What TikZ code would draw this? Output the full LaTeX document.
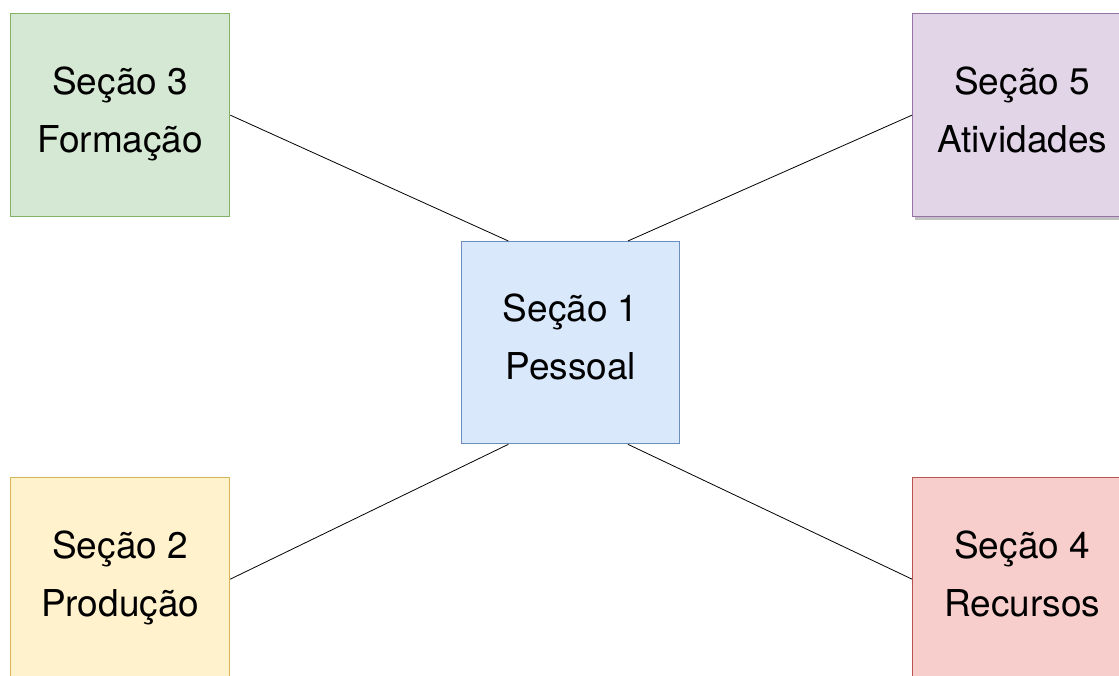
\documentclass[tikz,border=0pt]{standalone}
\usepackage{fontspec}
\setmainfont{TeX Gyre Heros}
\usetikzlibrary{calc}
\definecolor{gfill}{HTML}{D5E8D4}\definecolor{gline}{HTML}{82B366}
\definecolor{pfill}{HTML}{E1D5E7}\definecolor{pline}{HTML}{9673A6}
\definecolor{bfill}{HTML}{DAE8FC}\definecolor{bline}{HTML}{6C8EBF}
\definecolor{yfill}{HTML}{FFF2CC}\definecolor{yline}{HTML}{D6B656}
\definecolor{rfill}{HTML}{F8CECC}\definecolor{rline}{HTML}{B85450}
\tikzset{
  secbox/.style={draw, line width=1.3pt, minimum width=219pt, minimum height=203pt,
    inner sep=0pt, align=center, font=\fontsize{37}{58}\selectfont, anchor=north west},
  conn/.style={draw=black, line width=0.8pt}
}
\newcommand{\twolines}[2]{\rule{0pt}{30pt}#1\\#2\rule[-14pt]{0pt}{14pt}}
\begin{document}
\begin{tikzpicture}[x=1pt,y=-1pt]
\useasboundingbox (0,0) rectangle (1119,675);
\fill[white] (0,0) rectangle (1119,675);
% shadow of Seção 5
\fill[black!40, opacity=0.6] (915,17) rectangle (1134,220);
\node[secbox, fill=gfill, draw=gline] (s3) at (10,13) {\twolines{Seção 3}{Formação}};
\node[secbox, fill=pfill, draw=pline] (s5) at (912,13) {\twolines{Seção 5}{Atividades}};
\node[secbox, fill=bfill, draw=bline, minimum width=218pt, minimum height=202pt] (s1) at (461,241) {\twolines{Seção 1}{Pessoal}};
\node[secbox, fill=yfill, draw=yline] (s2) at (10,477) {\twolines{Seção 2}{Produção}};
\node[secbox, fill=rfill, draw=rline] (s4) at (912,477) {\twolines{Seção 4}{Recursos}};
\coordinate (tl) at ($(s1.north west)!0.216!(s1.north east)$);
\coordinate (tr) at ($(s1.north west)!0.761!(s1.north east)$);
\coordinate (bl) at ($(s1.south west)!0.216!(s1.south east)$);
\coordinate (br) at ($(s1.south west)!0.761!(s1.south east)$);
\draw[conn] (s3.east) -- (tl);
\draw[conn] (s5.west) -- (tr);
\draw[conn] (s2.east) -- (bl);
\draw[conn] (s4.west) -- (br);
\end{tikzpicture}
\end{document}
